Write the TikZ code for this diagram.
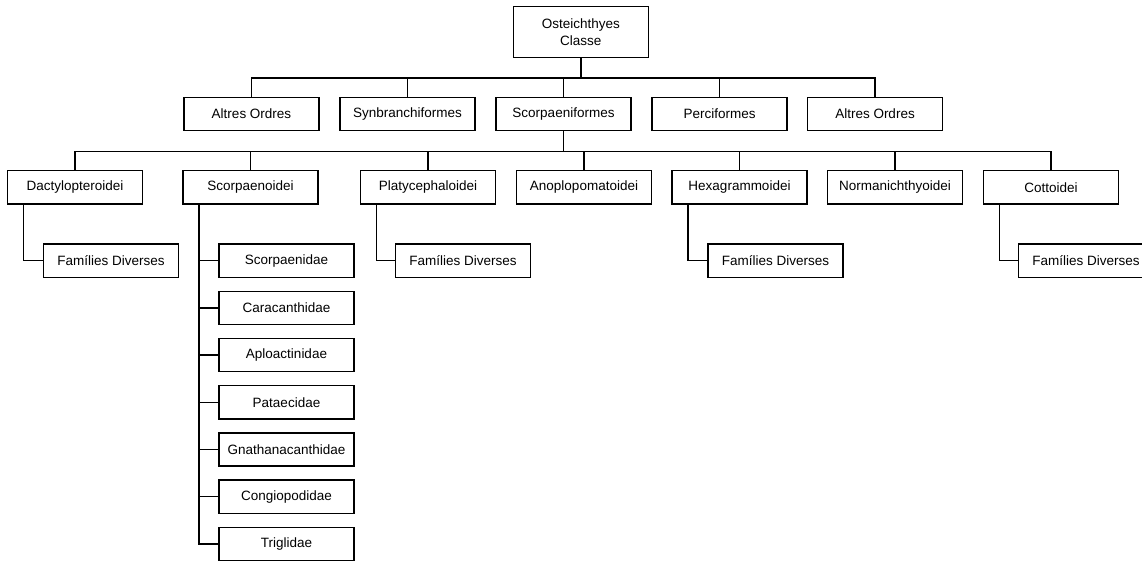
\documentclass[tikz,border=0pt]{standalone}
\usepackage{fontspec}
\setmainfont{Liberation Sans}
\begin{document}
\begin{tikzpicture}[x=1pt,y=-1pt,
  box/.style={draw=black,line width=1.4pt,fill=white,minimum width=135pt,minimum height=33.3pt,inner sep=0pt,
    font=\fontsize{13.5}{16.5}\selectfont,align=center},
  conn/.style={draw=black,line width=1.4pt,line join=miter}]
\useasboundingbox (0,0) rectangle (1142,560);
% root
\node[box,minimum height=50.6pt] (root) at (580.8,32) {Osteichthyes\\Classe};
% row 1
\node[box] (o1) at (251.5,114) {Altres Ordres};
\node[box] (o2) at (407.5,114) {Synbranchiformes};
\node[box] (o3) at (563.5,114) {Scorpaeniformes};
\node[box] (o4) at (719.5,114) {Perciformes};
\node[box] (o5) at (875,114) {Altres Ordres};
% row 2
\node[box] (s1) at (75,187.3) {Dactylopteroidei};
\node[box] (s2) at (250.5,187.3) {Scorpaenoidei};
\node[box] (s3) at (428,187.3) {Platycephaloidei};
\node[box] (s4) at (584,187.3) {Anoplopomatoidei};
\node[box] (s5) at (739.5,187.3) {Hexagrammoidei};
\node[box] (s6) at (895,187.3) {Normanichthyoidei};
\node[box] (s7) at (1051,187.3) {Cottoidei};
% families
\node[box] (d1) at (111,260.7) {Famílies Diverses};
\node[box] (d3) at (463,260.7) {Famílies Diverses};
\node[box] (d5) at (775.5,260.7) {Famílies Diverses};
\node[box] (d7) at (1086,260.7) {Famílies Diverses};
\node[box] (f1) at (286.5,260.7) {Scorpaenidae};
\node[box] (f2) at (286.5,307.9) {Caracanthidae};
\node[box] (f3) at (286.5,355.1) {Aploactinidae};
\node[box] (f4) at (286.5,402.3) {Pataecidae};
\node[box] (f5) at (286.5,449.5) {Gnathanacanthidae};
\node[box] (f6) at (286.5,496.7) {Congiopodidae};
\node[box] (f7) at (286.5,543.9) {Triglidae};
% connectors root -> orders
\foreach \c in {o1,o2,o3,o4,o5}
  \draw[conn] (root.south) -- ++(0,20) -| (\c.north);
% Scorpaeniformes -> suborders
\foreach \c in {s1,s2,s3,s4,s5,s6,s7}
  \draw[conn] (o3.south) -- ++(0,20) -| (\c.north);
% suborders -> families
\draw[conn] ([xshift=16.5pt]s1.south west) |- (d1.west);
\draw[conn] ([xshift=16.5pt]s3.south west) |- (d3.west);
\draw[conn] ([xshift=16.5pt]s5.south west) |- (d5.west);
\draw[conn] ([xshift=16.5pt]s7.south west) |- (d7.west);
\foreach \f in {f1,f2,f3,f4,f5,f6,f7}
  \draw[conn] ([xshift=16.5pt]s2.south west) |- (\f.west);
\end{tikzpicture}
\end{document}
